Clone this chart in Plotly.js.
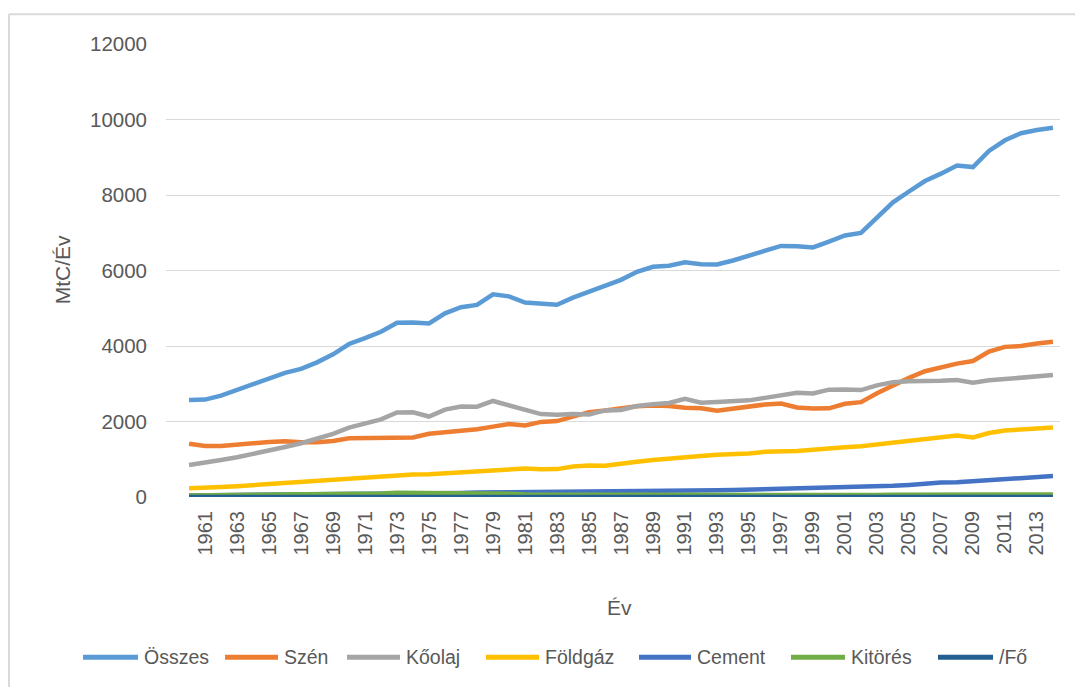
<!DOCTYPE html>
<html>
<head>
<meta charset="utf-8">
<script src="https://cdn.plot.ly/plotly-3.0.1.min.js"></script>
<style>html,body{margin:0;padding:0;background:#fff;}#chart{width:1075px;height:687px;}</style>
</head>
<body>
<div id="chart"></div>
<script>
const years = [];
for (let y = 1960; y <= 2014; y++) years.push(y);

const tickYears = [1961,1963,1965,1967,1969,1971,1973,1975,1977,1979,1981,1983,1985,1987,1989,1991,1993,1995,1997,1999,2001,2003,2005,2007,2009,2011,2013];
const yTicks = [0,2000,4000,6000,8000,10000,12000];

const osszes = [2569,2580,2686,2833,2995,3130,3288,3393,3566,3780,4053,4208,4376,4614,4623,4596,4864,5026,5087,5369,5315,5152,5113,5094,5280,5439,5607,5752,5965,6097,6127,6217,6164,6162,6266,6398,6542,6651,6643,6610,6765,6927,6996,7416,7807,8093,8370,8566,8783,8740,9167,9449,9638,9720,9780];
const szen = [1410,1349,1351,1396,1435,1460,1478,1448,1448,1486,1556,1559,1576,1581,1579,1673,1710,1770,1795,1864,1935,1897,1990,2010,2115,2247,2292,2354,2405,2424,2412,2363,2348,2287,2336,2414,2450,2474,2370,2343,2349,2470,2513,2748,2964,3155,3332,3440,3534,3602,3853,3977,3998,4066,4110];
const koolaj = [849,904,980,1052,1137,1219,1323,1423,1551,1673,1839,1947,2057,2241,2245,2132,2314,2398,2392,2544,2422,2289,2196,2176,2199,2186,2293,2306,2412,2459,2492,2601,2499,2515,2539,2560,2626,2701,2763,2741,2844,2848,2832,2958,3043,3068,3089,3081,3100,3030,3090,3130,3170,3200,3230];
const foldgaz = [235,240,263,286,316,337,364,392,424,467,493,530,560,588,597,604,630,650,680,721,737,755,738,739,807,835,830,892,935,982,1026,1051,1085,1117,1133,1151,1198,1196,1219,1250,1292,1316,1345,1392,1427,1476,1529,1573,1630,1578,1696,1761,1797,1832,1840];
const cement = [43,45,49,51,57,59,63,65,70,74,78,84,89,95,96,95,103,108,116,119,120,121,121,125,128,131,137,143,152,156,157,161,167,176,186,197,203,209,209,217,226,237,252,276,298,320,356,382,388,415,446,494,519,545,556];
const kitores = [39,42,44,47,51,55,60,66,73,80,87,88,95,110,107,92,108,104,106,98,86,65,64,58,51,49,46,44,50,41,40,36,37,38,38,39,40,40,43,45,46,48,48,50,60,61,62,63,68,67,65,70,70,68,68];
const fo = [0.85,0.84,0.86,0.89,0.92,0.94,0.97,0.98,1.01,1.05,1.10,1.12,1.14,1.18,1.16,1.13,1.17,1.19,1.18,1.22,1.19,1.13,1.10,1.08,1.10,1.12,1.13,1.14,1.16,1.17,1.16,1.16,1.13,1.11,1.11,1.12,1.13,1.14,1.12,1.10,1.11,1.12,1.12,1.17,1.21,1.24,1.26,1.29,1.30,1.28,1.33,1.35,1.36,1.37,1.37];

const names = ['Összes','Szén','Kőolaj','Földgáz','Cement','Kitörés','/Fő'];
const series = [osszes, szen, koolaj, foldgaz, cement, kitores, fo];
const colors = ['#5B9BD5','#ED7D31','#A5A5A5','#FFC000','#4472C4','#70AD47','#255E91'];

// layout geometry (pixels)
const W = 1075, H = 687;
const plotL = 166, plotR = 1060, plotT = 43.7, plotB = 496.7;
const PX = px => (px - plotL) / (plotR - plotL);
const PY = py => (plotB - py) / (plotB - plotT);

const traces = series.map((s, i) => ({
  x: years, y: s, name: names[i], type: 'scatter', mode: 'lines',
  line: {color: colors[i], width: 4.5}, showlegend: false, hoverinfo: 'x+y+name'
}));

const textColor = '#595959';
const fontFam = '"Liberation Sans", Arial, sans-serif';

// custom legend
const legendLines = [[83,138],[225,278],[347,400],[486,539],[639,691],[791,845],[938,993]];
const legendY = 657;
const shapes = [
  {type:'line', xref:'paper', yref:'paper', x0:PX(9), x1:PX(1080), y0:PY(14), y1:PY(14), line:{color:'#D9D9D9', width:2}},
  {type:'line', xref:'paper', yref:'paper', x0:PX(9), x1:PX(9), y0:PY(14), y1:PY(700), line:{color:'#D9D9D9', width:2}}
];
const annotations = [];
names.forEach((n, i) => {
  const [a, b] = legendLines[i];
  shapes.push({type:'line', xref:'paper', yref:'paper', x0:PX(a), x1:PX(b), y0:PY(legendY), y1:PY(legendY), line:{color:colors[i], width:5}});
  annotations.push({xref:'paper', yref:'paper', x:PX(b+4), y:PY(legendY), xanchor:'left', yanchor:'middle', text:n, showarrow:false, font:{family:fontFam, size:19.5, color:textColor}});
});
annotations.push({xref:'paper', yref:'paper', x:PX(619), y:PY(607), xanchor:'center', yanchor:'middle', text:'Év', showarrow:false, font:{family:fontFam, size:21, color:textColor}});
annotations.push({xref:'paper', yref:'paper', x:PX(62), y:PY(270), xanchor:'center', yanchor:'middle', text:'MtC/Év', textangle:-90, showarrow:false, font:{family:fontFam, size:21, color:textColor}});

const layout = {
  width: W, height: H,
  margin: {l: plotL, r: W - plotR, t: plotT, b: H - plotB, pad: 0},
  paper_bgcolor: '#fff', plot_bgcolor: '#fff',
  xaxis: {
    range: [1958.56, 2014.44], tickvals: tickYears, ticktext: tickYears.map(String),
    tickangle: -90, showgrid: false, zeroline: false, showline: false, ticks: '',
    ticklabelstandoff: 9,
    tickfont: {family: fontFam, size: 20, color: textColor}, fixedrange: true
  },
  yaxis: {
    range: [0, 12000], tickvals: yTicks, ticktext: yTicks.map(String),
    showgrid: true, gridcolor: '#D9D9D9', gridwidth: 1, zeroline: false, showline: false, ticks: '',
    ticklabelstandoff: 18,
    tickfont: {family: fontFam, size: 20.5, color: textColor}, fixedrange: true
  },
  shapes: shapes,
  annotations: annotations
};

Plotly.newPlot('chart', traces, layout, {displayModeBar: false, staticPlot: true});
</script>
</body>
</html>
